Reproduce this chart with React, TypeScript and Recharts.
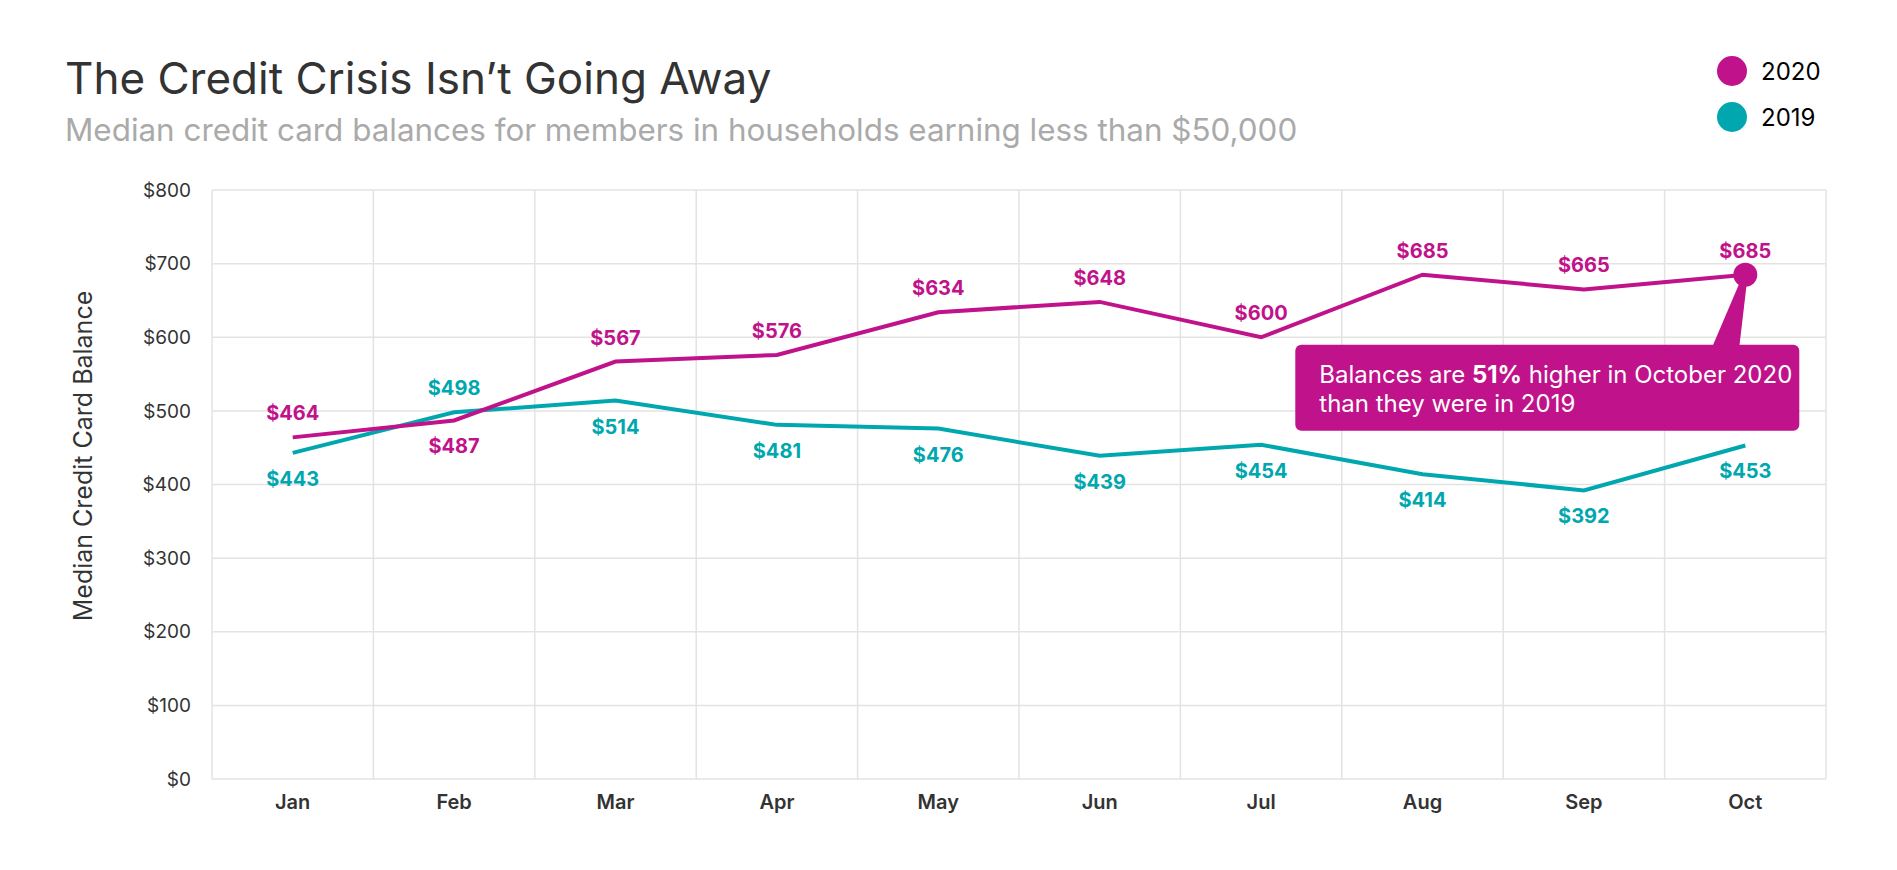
import React from "react";
import { LineChart, Line, XAxis, YAxis, CartesianGrid, LabelList } from "recharts";

const months = ["Jan", "Feb", "Mar", "Apr", "May", "Jun", "Jul", "Aug", "Sep", "Oct"];
const balances2020 = [464, 487, 567, 576, 634, 648, 600, 685, 665, 685];
const balances2019 = [443, 498, 514, 481, 476, 439, 454, 414, 392, 453];
const yTicks = [0, 100, 200, 300, 400, 500, 600, 700, 800];
const seriesNames = ["2020", "2019"];

const MAGENTA = "#C0128A";
const TEAL = "#00A7AF";
const FONT = "Inter, 'Open Sans', sans-serif";
const PLOT_W = 1614;

const data = months.map((m, i) => ({ month: m, y2020: balances2020[i], y2019: balances2019[i] }));

// label goes on the side away from the other series
const makeLabel = (color: string, own: number[], other: number[]) => (props: any) => {
    const { x, y, index, value } = props;
    const above = own[index] >= other[index];
    return (
        <text
            key={`l-${color}-${index}`}
            x={x}
            y={above ? y - 17 : y + 33}
            textAnchor="middle"
            fill={color}
            fontSize={20}
            fontWeight={700}
            fontFamily={FONT}
        >
            {`$${value}`}
        </text>
    );
};

const CalloutDot = (props: any) => {
    const { cx, cy, index } = props;
    if (index !== months.length - 1) return <g key={`d-${index}`} />;
    return (
        <g key="callout">
            <circle cx={cx} cy={cy} r={12} fill={MAGENTA} />
            <polygon
                points={`${cx - 4},${cy + 4} ${cx + 2},${cy + 4} ${cx - 6},${cy + 72} ${cx - 33},${cy + 72}`}
                fill={MAGENTA}
            />
            <rect x={cx - 450} y={cy + 70} width={504} height={86} rx={6} fill={MAGENTA} />
            <text x={cx - 426} y={cy + 108} fill="#fff" fontSize={24} fontFamily={FONT}>
                Balances are <tspan fontWeight={700}>51%</tspan> higher in October 2020
            </text>
            <text x={cx - 426} y={cy + 137} fill="#fff" fontSize={24} fontFamily={FONT}>
                than they were in 2019
            </text>
        </g>
    );
};

const ChartLegend = () => (
    <div style={{ position: "absolute", left: 1717, top: 48 }}>
        {seriesNames.map((name, i) => (
            <div key={name} style={{ display: "flex", alignItems: "center", height: 46 }}>
                <svg width={30} height={30}>
                    <circle cx={15} cy={15} r={15} fill={i === 0 ? MAGENTA : TEAL} />
                </svg>
                <span style={{ marginLeft: 14, fontSize: 24, color: "#000" }}>{name}</span>
            </div>
        ))}
    </div>
);

export default function App() {
    const bandPad = PLOT_W / (2 * months.length);
    return (
        <div style={{ position: "absolute", left: 0, top: 0, width: 1897, height: 870, background: "#fff", fontFamily: FONT }}>
            <div style={{ position: "absolute", left: 65, top: 56, fontSize: 44, lineHeight: 1, color: "#333", whiteSpace: "nowrap" }}>
                The Credit Crisis Isn’t Going Away
            </div>
            <div style={{ position: "absolute", left: 65, top: 115, fontSize: 31.4, lineHeight: 1, color: "#aaa", whiteSpace: "nowrap" }}>
                Median credit card balances for members in households earning less than $50,000
            </div>
            <div
                style={{
                    position: "absolute",
                    left: 83,
                    top: 456,
                    transform: "translate(-50%, -50%) rotate(-90deg)",
                    fontSize: 25,
                    color: "#333",
                    whiteSpace: "nowrap",
                }}
            >
                Median Credit Card Balance
            </div>
            <ChartLegend />
            <LineChart width={1897} height={870} data={data} margin={{ top: 190, right: 71, bottom: 31, left: 112 }}>
                <CartesianGrid
                    stroke="#e3e3e3"
                    strokeWidth={1.5}
                    verticalCoordinatesGenerator={({ offset }: any) =>
                        Array.from({ length: months.length + 1 }, (_, i) => offset.left + (i * offset.width) / months.length)
                    }
                />
                <XAxis
                    dataKey="month"
                    padding={{ left: bandPad, right: bandPad }}
                    axisLine={false}
                    tickLine={false}
                    tickSize={0}
                    tickMargin={16}
                    height={60}
                    tick={{ fill: "#333", fontSize: 20, fontWeight: 600, fontFamily: FONT }}
                />
                <YAxis
                    domain={[0, 800]}
                    ticks={yTicks}
                    width={100}
                    axisLine={false}
                    tickLine={false}
                    tickSize={0}
                    tickMargin={21}
                    tickFormatter={(v: number) => `$${v}`}
                    tick={{ fill: "#333", fontSize: 19, fontFamily: FONT }}
                />
                <Line
                    name="2019"
                    dataKey="y2019"
                    stroke={TEAL}
                    strokeWidth={4}
                    dot={false}
                    activeDot={false}
                    isAnimationActive={false}
                >
                    <LabelList dataKey="y2019" content={makeLabel(TEAL, balances2019, balances2020)} />
                </Line>
                <Line
                    name="2020"
                    dataKey="y2020"
                    stroke={MAGENTA}
                    strokeWidth={4}
                    dot={<CalloutDot />}
                    activeDot={false}
                    isAnimationActive={false}
                >
                    <LabelList dataKey="y2020" content={makeLabel(MAGENTA, balances2020, balances2019)} />
                </Line>
            </LineChart>
        </div>
    );
}
